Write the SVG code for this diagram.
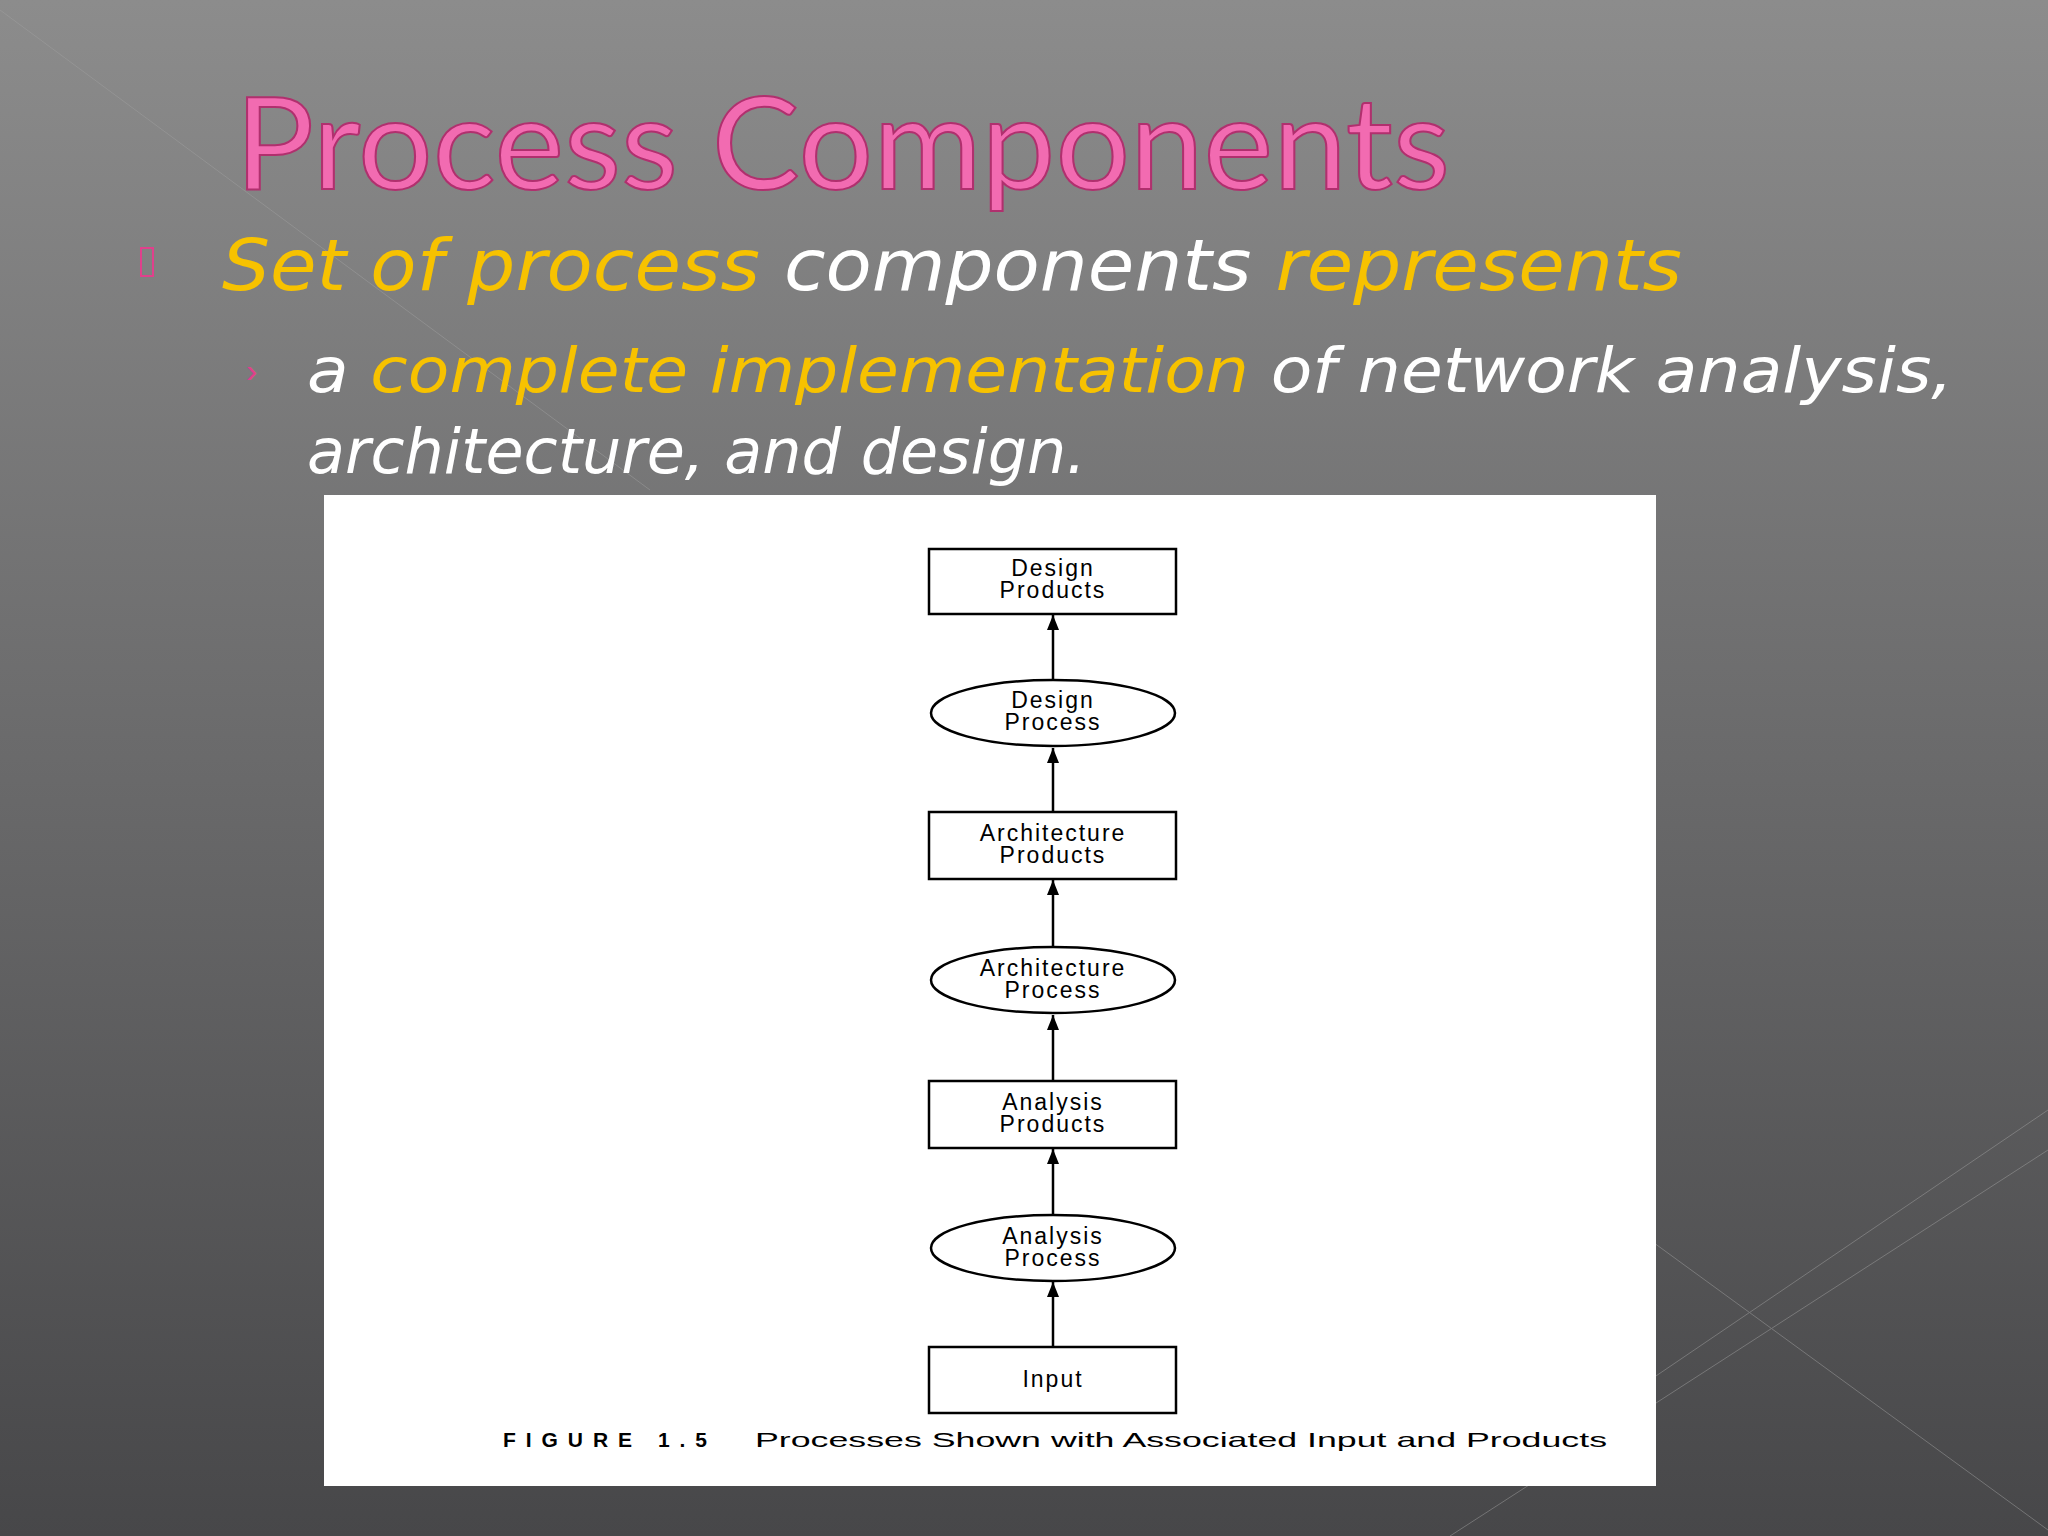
<svg xmlns="http://www.w3.org/2000/svg" width="2048" height="1536" viewBox="0 0 2048 1536">
<defs>
<linearGradient id="bg" x1="0" y1="0" x2="0" y2="1"><stop offset="0" stop-color="#8c8c8c"/><stop offset="1" stop-color="#474749"/></linearGradient>
<marker id="ah" viewBox="0 0 10 10" refX="10" refY="5" markerWidth="6" markerHeight="6" orient="auto"><path d="M0,1 L10,5 L0,9 Z" fill="#000"/></marker>
<style>
.n{fill:#fff;stroke:#000;stroke-width:2.5}
.t{font-family:"Liberation Sans",Arial,sans-serif;font-size:23px;letter-spacing:2px;text-anchor:middle;fill:#000}
.c{stroke:#000;stroke-width:2.5;marker-end:url(#ah)}
.b{font-family:"DejaVu Sans","Liberation Sans",sans-serif;font-style:italic;fill:#fff}
.y{fill:#f7c200}
</style>
</defs>
<rect width="2048" height="1536" fill="url(#bg)"/>
<g stroke="#a0a0a0" stroke-width="1" opacity="0.5" fill="none">
<line x1="0" y1="10" x2="650" y2="490"/>
<line x1="1650" y1="1240" x2="2048" y2="1530"/>
<line x1="1650" y1="1380" x2="2048" y2="1110"/>
<line x1="1450" y1="1536" x2="2048" y2="1150"/>
</g>
<text x="235" y="189" font-family="Lato,'Liberation Sans',sans-serif" font-size="128" fill="#f26bb1" stroke="#b0306e" stroke-width="2" textLength="1215" lengthAdjust="spacingAndGlyphs">Process Components</text>
<rect x="141" y="248" width="12" height="28" fill="none" stroke="#e0408c" stroke-width="2"/>
<text class="b" x="222" y="290" font-size="72" textLength="1460" lengthAdjust="spacingAndGlyphs"><tspan class="y">Set of process</tspan> components <tspan class="y">represents</tspan></text>
<text x="246" y="382" font-family="'Liberation Sans',sans-serif" font-size="34" fill="#e0408c">›</text>
<text class="b" x="307" y="392" font-size="62" textLength="1646" lengthAdjust="spacingAndGlyphs">a <tspan class="y">complete implementation</tspan> of network analysis,</text>
<text class="b" x="307" y="473" font-size="62">architecture, and design.</text>
<rect x="324" y="495" width="1332" height="991" fill="#fff"/>
<g id="connectors">
<line class="c" x1="1053" y1="680" x2="1053" y2="615"/>
<line class="c" x1="1053" y1="812" x2="1053" y2="748"/>
<line class="c" x1="1053" y1="947" x2="1053" y2="880"/>
<line class="c" x1="1053" y1="1081" x2="1053" y2="1015"/>
<line class="c" x1="1053" y1="1215" x2="1053" y2="1149"/>
<line class="c" x1="1053" y1="1347" x2="1053" y2="1282"/>
</g>
<g id="design-products"><rect class="n" x="929" y="549" width="247" height="65"/><text class="t" x="1053" y="576">Design</text><text class="t" x="1053" y="598">Products</text></g>
<g id="design-process"><ellipse class="n" cx="1053" cy="713" rx="122" ry="33"/><text class="t" x="1053" y="708">Design</text><text class="t" x="1053" y="730">Process</text></g>
<g id="architecture-products"><rect class="n" x="929" y="812" width="247" height="67"/><text class="t" x="1053" y="841">Architecture</text><text class="t" x="1053" y="863">Products</text></g>
<g id="architecture-process"><ellipse class="n" cx="1053" cy="980" rx="122" ry="33"/><text class="t" x="1053" y="976">Architecture</text><text class="t" x="1053" y="998">Process</text></g>
<g id="analysis-products"><rect class="n" x="929" y="1081" width="247" height="67"/><text class="t" x="1053" y="1110">Analysis</text><text class="t" x="1053" y="1132">Products</text></g>
<g id="analysis-process"><ellipse class="n" cx="1053" cy="1248" rx="122" ry="33"/><text class="t" x="1053" y="1244">Analysis</text><text class="t" x="1053" y="1266">Process</text></g>
<g id="input"><rect class="n" x="929" y="1347" width="247" height="66"/><text class="t" x="1053" y="1387">Input</text></g>
<text x="503" y="1447" font-family="'Liberation Sans',sans-serif" font-size="21" font-weight="bold" textLength="204" lengthAdjust="spacing">FIGURE 1.5</text>
<text x="755" y="1447" font-family="'Liberation Sans',sans-serif" font-size="21" textLength="852" lengthAdjust="spacingAndGlyphs">Processes Shown with Associated Input and Products</text>
</svg>
